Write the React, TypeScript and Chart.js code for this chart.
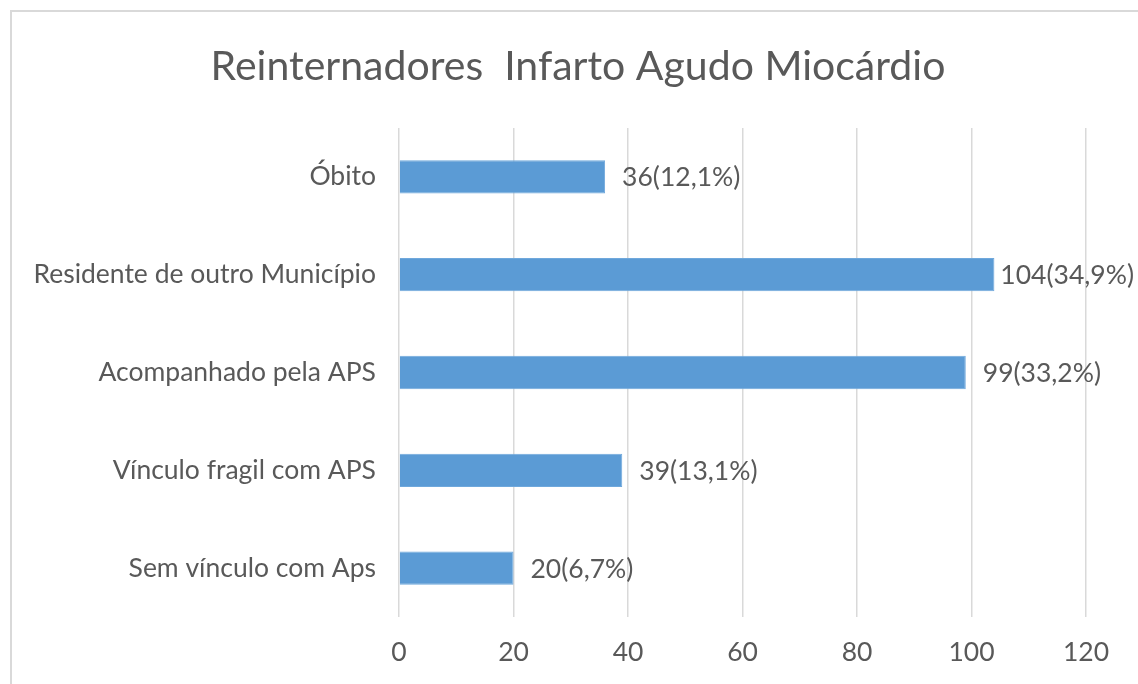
import React, { useEffect, useRef } from "react";
import { Chart, registerables } from "chart.js";

Chart.register(...registerables);

const titleText = "Reinternadores  Infarto Agudo Miocárdio";
const categories = [
  "Óbito",
  "Residente de outro Município",
  "Acompanhado pela APS",
  "Vínculo fragil com APS",
  "Sem vínculo com Aps",
];
const counts = [36, 104, 99, 39, 20];
const percents = ["12,1%", "34,9%", "33,2%", "13,1%", "6,7%"];
const xMin = 0;
const xMax = 120;
const xStep = 20;

const FONT = "Lato, 'Open Sans', sans-serif";
const TEXT = "#595959";
const LABEL_SIZE = 26.5;

const dataLabelPlugin = {
  id: "dataLabels",
  afterDatasetsDraw(chart: any) {
    const ctx = chart.ctx;
    const meta = chart.getDatasetMeta(0);
    ctx.save();
    ctx.font = `${LABEL_SIZE}px ${FONT}`;
    ctx.fillStyle = TEXT;
    ctx.textAlign = "left";
    ctx.textBaseline = "middle";
    meta.data.forEach((bar: any, i: number) => {
      const text = `${counts[i]}(${percents[i]})`;
      const w = ctx.measureText(text).width;
      const x = Math.min(bar.x + 17, chart.width - 4 - w);
      ctx.fillText(text, x, bar.y + 1);
    });
    ctx.restore();
  },
};

const titlePlugin = {
  id: "customTitle",
  afterDraw(chart: any) {
    const ctx = chart.ctx;
    ctx.save();
    ctx.font = `41px ${FONT}`;
    ctx.fillStyle = TEXT;
    ctx.textAlign = "center";
    ctx.textBaseline = "middle";
    ctx.fillText(titleText, chart.width / 2 + 9, 67);
    ctx.restore();
  },
};

export default function App() {
  const ref = useRef<HTMLCanvasElement>(null);
  useEffect(() => {
    if (!ref.current) return;
    const chart = new Chart(ref.current, {
      type: "bar",
      data: {
        labels: categories,
        datasets: [
          {
            data: counts,
            backgroundColor: "#5B9BD5",
            borderColor: "#6FA8DC",
            borderWidth: 1,
            barPercentage: 0.34,
            categoryPercentage: 1,
          },
        ],
      },
      options: {
        indexAxis: "y",
        animation: false,
        responsive: false,
        maintainAspectRatio: false,
        layout: { padding: { left: 0, right: 52, top: 128, bottom: 0 } },
        plugins: {
          legend: { display: false },
          tooltip: { enabled: false },
          title: { display: false },
        },
        scales: {
          x: {
            min: xMin,
            max: xMax,
            ticks: {
              stepSize: xStep,
              color: TEXT,
              font: { family: FONT, size: LABEL_SIZE },
              padding: 20,
            },
            grid: { color: "#D9D9D9", lineWidth: 1.5, drawTicks: false },
            border: { display: false },
            afterFit: (s: any) => {
              s.height = 67;
            },
          },
          y: {
            ticks: {
              color: TEXT,
              font: { family: FONT, size: LABEL_SIZE },
              padding: 23,
            },
            grid: { display: false, drawTicks: false },
            border: { display: false },
            afterFit: (s: any) => {
              s.width = 399;
            },
          },
        },
      },
      plugins: [dataLabelPlugin, titlePlugin],
    });
    return () => chart.destroy();
  }, []);

  return (
    <div
      style={{
        position: "fixed",
        left: 0,
        top: 0,
        width: 1138,
        height: 684,
        background: "#fff",
        overflow: "hidden",
      }}
    >
      <div
        style={{
          position: "absolute",
          left: 10,
          top: 10,
          width: 1140,
          height: 700,
          border: "2px solid #D9D9D9",
          boxSizing: "border-box",
        }}
      />
      <canvas
        ref={ref}
        width={1138}
        height={684}
        style={{ position: "absolute", left: 0, top: 0, width: 1138, height: 684 }}
      />
    </div>
  );
}
